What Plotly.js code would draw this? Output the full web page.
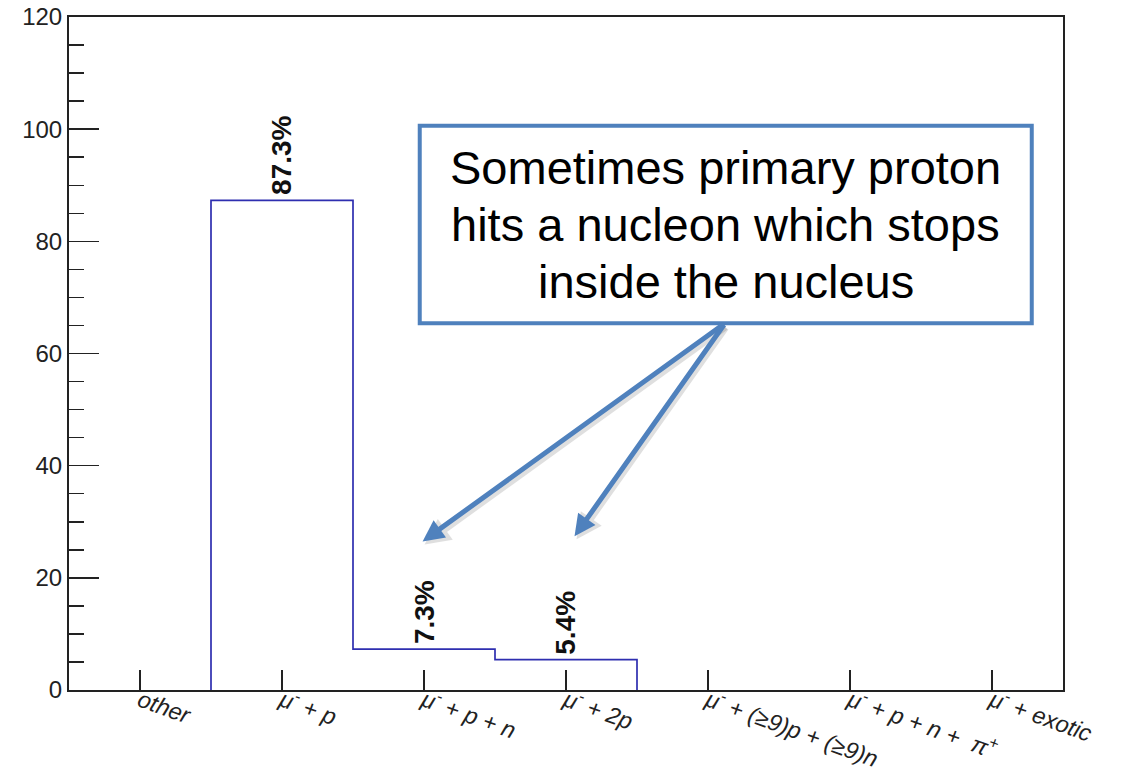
<!DOCTYPE html>
<html>
<head>
<meta charset="utf-8">
<script src="https://cdn.plot.ly/plotly-3.0.1.min.js"></script>
<style>
  html, body { margin: 0; padding: 0; background: #ffffff; }
  #chart { width: 1124px; height: 775px; }
</style>
</head>
<body>
<div id="chart"></div>
<script>
// Final-state channels after muon capture, in percent of events
const categories = [
  'other',
  'μ<sup>-</sup> + p',
  'μ<sup>-</sup> + p + n',
  'μ<sup>-</sup> + 2p',
  'μ<sup>-</sup> + (≥9)p + (≥9)n',
  'μ<sup>-</sup> + p + n +\u00a0\u00a0π<sup>+</sup>',
  'μ<sup>-</sup> + exotic'
];
const fractions = [0, 87.3, 7.3, 5.4, 0, 0, 0];

const yTicks = [0, 20, 40, 60, 80, 100, 120];

const calloutLines = [
  'Sometimes primary proton',
  'hits a nucleon which stops',
  'inside the nucleus'
];

// Histogram outline: step line over the populated bins (bin i spans [i, i+1])
const first = fractions.findIndex(v => v > 0);
let last = -1;
fractions.forEach((v, i) => { if (v > 0) last = i; });
const stepX = [first];
const stepY = [0];
for (let i = first; i <= last; i++) {
  stepX.push(i);
  stepY.push(fractions[i]);
}
stepX.push(last + 1);
stepY.push(0);

const binCenters = categories.map((_, i) => i + 0.5);

const histTrace = {
  type: 'scatter',
  mode: 'lines',
  x: stepX,
  y: stepY,
  line: { shape: 'hv', color: '#2e2eb0', width: 1.7 },
  hoverinfo: 'skip',
  showlegend: false
};

// Percentage labels written vertically above each filled bin
const valueLabels = [];
fractions.forEach((v, i) => {
  if (v > 0) {
    valueLabels.push({
      x: i + 0.5, y: v, xref: 'x', yref: 'y',
      text: v.toFixed(1) + '%',
      textangle: -90,
      showarrow: false,
      xanchor: 'center', yanchor: 'bottom',
      yshift: 3,
      font: { family: 'Liberation Sans, Arial, sans-serif', size: 28, color: '#111111', weight: 'bold' }
    });
  }
});

// Callout box and arrows
const accent = '#4f81bd';
const box = { x0: 2.47, x1: 6.78, y0: 65.4, y1: 100.6 };
const arrowTail = { x: 4.62, y: 65.4 };
const arrowTips = [ { x: 2.49, y: 26.5 }, { x: 3.56, y: 27.4 } ];

// soft drop shadow under each arrow
const arrowShadows = arrowTips.map(t => ({
  x: t.x, y: t.y, xref: 'x', yref: 'y',
  ax: arrowTail.x, ay: arrowTail.y, axref: 'x', ayref: 'y',
  xshift: 2, yshift: -3,
  text: '',
  showarrow: true,
  arrowhead: 2,
  arrowsize: 0.85,
  arrowwidth: 6,
  arrowcolor: 'rgba(0,0,0,0.12)'
}));

const arrows = arrowTips.map(t => ({
  x: t.x, y: t.y, xref: 'x', yref: 'y',
  ax: arrowTail.x, ay: arrowTail.y, axref: 'x', ayref: 'y',
  text: '',
  showarrow: true,
  arrowhead: 2,
  arrowsize: 0.85,
  arrowwidth: 5,
  arrowcolor: accent
}));

// callout text, one annotation per line for even spacing
const lineStep = 10.1;
const boxMid = (box.y0 + box.y1) / 2;
const calloutText = calloutLines.map((line, k) => ({
  x: (box.x0 + box.x1) / 2,
  y: boxMid + (1 - k) * lineStep,
  xref: 'x', yref: 'y',
  text: line,
  showarrow: false,
  xanchor: 'center', yanchor: 'middle',
  font: { family: 'Liberation Sans, Arial, sans-serif', size: 47, color: '#000000' }
}));

const layout = {
  width: 1124,
  height: 775,
  margin: { l: 69, r: 61, t: 17, b: 85 },
  paper_bgcolor: '#ffffff',
  plot_bgcolor: '#ffffff',
  font: { family: 'Liberation Sans, Arial, sans-serif', color: '#222222' },
  showlegend: false,
  xaxis: {
    range: [0, categories.length],
    tickmode: 'array',
    tickvals: binCenters,
    ticktext: categories,
    ticks: 'inside',
    ticklen: 20,
    tickwidth: 1.5,
    tickcolor: '#222222',
    tickangle: 20,
    ticklabelstandoff: -14,
    tickfont: { size: 23.5, style: 'italic', color: '#222222' },
    showline: true,
    linecolor: '#222222',
    linewidth: 2,
    mirror: true,
    showgrid: false,
    zeroline: false,
    fixedrange: true
  },
  yaxis: {
    range: [0, 120],
    tickmode: 'array',
    tickvals: yTicks,
    ticktext: yTicks.map(String),
    ticks: 'inside',
    ticklen: 30,
    tickwidth: 1.5,
    tickcolor: '#222222',
    tickfont: { size: 24, color: '#222222' },
    minor: { dtick: 5, ticks: 'inside', ticklen: 15, tickwidth: 1.5, tickcolor: '#222222', showgrid: false },
    showline: true,
    linecolor: '#222222',
    linewidth: 2,
    mirror: true,
    showgrid: false,
    zeroline: false,
    fixedrange: true
  },
  shapes: [{
    type: 'rect', xref: 'x', yref: 'y',
    x0: box.x0, x1: box.x1, y0: box.y0, y1: box.y1,
    line: { color: accent, width: 4 },
    fillcolor: '#ffffff',
    layer: 'above'
  }],
  annotations: valueLabels.concat(arrowShadows, arrows, calloutText)
};

Plotly.newPlot('chart', [histTrace], layout, { displayModeBar: false, staticPlot: true });
</script>
</body>
</html>
